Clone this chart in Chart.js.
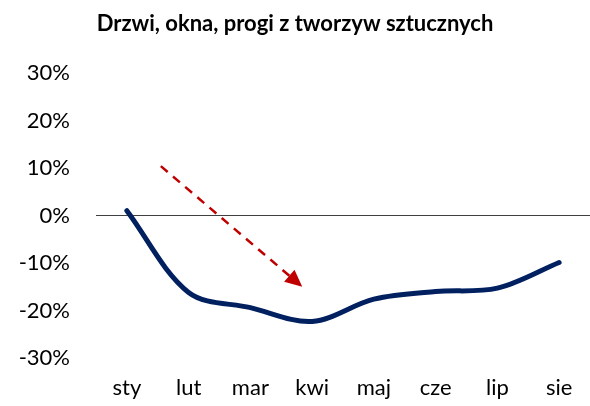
<!DOCTYPE html>
<html>
<head>
<meta charset="utf-8">
<script src="https://cdn.jsdelivr.net/npm/chart.js@4"></script>
<style>
  html, body { margin: 0; padding: 0; background: #fff; }
  #wrap { width: 590px; height: 406px; }
</style>
</head>
<body>
<div id="wrap"><canvas id="chart"></canvas></div>
<script>
const title = "Drzwi, okna, progi z tworzyw sztucznych";
const months = ["sty", "lut", "mar", "kwi", "maj", "cze", "lip", "sie"];
const values = [1.0, -16.2, -19.4, -22.3, -17.6, -16.0, -15.3, -9.9];
const yTicks = [-30, -20, -10, 0, 10, 20, 30];
// strzałka: [indeks kategorii, wartość %]
const arrowFrom = [0.55, 10.4];
const arrowTo = [2.84, -15.0];

const FONT = "Lato, 'Open Sans', sans-serif";

const arrowPlugin = {
  id: "arrow",
  afterDatasetsDraw(chart) {
    const ctx = chart.ctx;
    const xs = chart.scales.x, ys = chart.scales.y;
    const x1 = xs.getPixelForValue(arrowFrom[0]), y1 = ys.getPixelForValue(arrowFrom[1]);
    const x2 = xs.getPixelForValue(arrowTo[0]), y2 = ys.getPixelForValue(arrowTo[1]);
    const ang = Math.atan2(y2 - y1, x2 - x1);
    const head = 17, half = 8;
    const bx = x2 - head * Math.cos(ang), by = y2 - head * Math.sin(ang);
    ctx.save();
    ctx.strokeStyle = "#C00000";
    ctx.fillStyle = "#C00000";
    ctx.lineWidth = 2.5;
    ctx.setLineDash([9, 7]);
    ctx.beginPath();
    ctx.moveTo(x1, y1);
    ctx.lineTo(bx, by);
    ctx.stroke();
    ctx.setLineDash([]);
    ctx.beginPath();
    ctx.moveTo(x2, y2);
    ctx.lineTo(bx + half * Math.sin(ang), by - half * Math.cos(ang));
    ctx.lineTo(bx - half * Math.sin(ang), by + half * Math.cos(ang));
    ctx.closePath();
    ctx.fill();
    ctx.restore();
  }
};

new Chart(document.getElementById("chart"), {
  type: "line",
  data: {
    labels: months,
    datasets: [{
      data: values,
      borderColor: "#002060",
      borderWidth: 5,
      borderCapStyle: "round",
      tension: 0.33,
      pointRadius: 0,
      fill: false
    }]
  },
  options: {
    responsive: true,
    maintainAspectRatio: false,
    animation: false,
    layout: { padding: { left: 0, right: 0, top: 0, bottom: 0 } },
    plugins: {
      legend: { display: false },
      tooltip: { enabled: false },
      title: {
        display: true,
        text: title,
        color: "#000",
        font: { family: FONT, size: 22, weight: "bold" },
        lineHeight: 1.2,
        padding: { top: 11, bottom: 35.6 }
      }
    },
    scales: {
      x: {
        offset: true,
        grid: { display: false, drawTicks: false },
        border: { display: false },
        ticks: { color: "#000", font: { family: FONT, size: 22 }, padding: 17, maxRotation: 0 },
        afterFit(s) { s.height = 48; }
      },
      y: {
        min: -30,
        max: 30,
        afterBuildTicks(s) { s.ticks = yTicks.map(v => ({ value: v })); },
        grid: {
          drawTicks: false,
          lineWidth: 1,
          color: c => (c.tick && c.tick.value === 0 ? "#404040" : "rgba(0,0,0,0)")
        },
        border: { display: false },
        ticks: {
          color: "#000",
          font: { family: FONT, size: 22 },
          padding: 26,
          callback: v => v + "%"
        },
        afterFit(s) { s.width = 96; }
      }
    }
  },
  plugins: [arrowPlugin]
});
</script>
</body>
</html>
